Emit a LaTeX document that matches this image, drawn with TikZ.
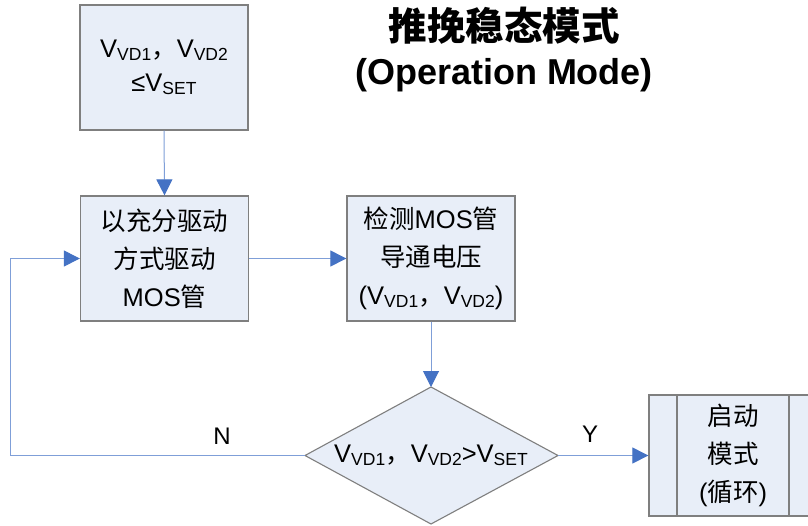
\documentclass[tikz,border=0pt]{standalone}
\usepackage{fontspec}
\setmainfont{Liberation Sans}
\newfontfamily\cjk{Noto Sans CJK SC}
\usetikzlibrary{arrows.meta}
\definecolor{boxfill}{HTML}{E8EEF8}
\definecolor{boxline}{HTML}{7F7F7F}
\definecolor{conn}{HTML}{7F9FD8}
\definecolor{tipblue}{HTML}{4472C4}
\newcommand{\sbt}[1]{\raisebox{-0.2ex}{\fontsize{17.5}{17.5}\selectfont #1}}
\newcommand{\cm}{{\cjk ，}}
\tikzset{
  box/.style={draw=boxline, line width=1.3pt, fill=boxfill, minimum width=168pt, minimum height=125pt, inner sep=0pt, align=center, font=\fontsize{25.5}{38}\selectfont},
  txt/.style={inner sep=0pt, align=center, font=\fontsize{25.5}{38}\selectfont},
  conn/.style={draw=conn, line width=1pt, -{Triangle[length=16pt,width=16pt,color=tipblue]}},
  lbl/.style={font=\fontsize{24}{28}\selectfont}
}
\begin{document}
\begin{tikzpicture}[x=1pt,y=-1pt]
\clip (0,0) rectangle (808,525);
\fill[white] (0,0) rectangle (808,525);
\node[align=center, font=\bfseries\fontsize{36}{44}\selectfont] (title) at (504,50) {{\cjk\fontsize{38.5}{44}\selectfont 推挽稳态模式}\\(Operation Mode)};
\node[box, font=\fontsize{25.5}{34}\selectfont] (b1) at (164,67.5) {V\sbt{VD1}\cm V\sbt{VD2}\\≤V\sbt{SET}};
\node[box] (b2) at (164.5,258.5) {{\cjk 以充分驱动}\\{\cjk 方式驱动}\\MOS{\cjk 管}};
\node[box] (b3) at (431,258.5) {{\cjk 检测}MOS{\cjk 管}\\{\cjk 导通电压}\\(V\sbt{VD1}\cm V\sbt{VD2})};
\coordinate (dT) at (431,387);
\coordinate (dL) at (305,455.5);
\coordinate (dR) at (558,455.5);
\coordinate (dB) at (431,524);
\filldraw[draw=boxline, line width=1.1pt, fill=boxfill] (dT) -- (dR) -- (dB) -- (dL) -- cycle;
\node[txt] (d) at (431,455.5) {V\sbt{VD1}\cm V\sbt{VD2}>V\sbt{SET}};
\node[box, minimum height=121pt] (p) at (733,455.5) {{\cjk 启动}\\{\cjk 模式}\\({\cjk 循环})};
\draw[boxline, line width=1.3pt] (677,395) -- (677,516) (789,395) -- (789,516);
\coordinate (c1) at (10,455.5);
\coordinate (c2) at (10,258.5);
\draw[conn] (b1.south) -- (b2.north);
\draw[conn] (b2.east) -- (b3.west);
\draw[conn] (b3.south) -- (dT);
\draw[conn] (dL) -- (c1) -- (c2) -- (b2.west);
\draw[conn] (dR) -- (p.west);
\node[lbl] (n) at (222,436) {N};
\node[lbl] (y) at (590,434) {Y};
\end{tikzpicture}
\end{document}
